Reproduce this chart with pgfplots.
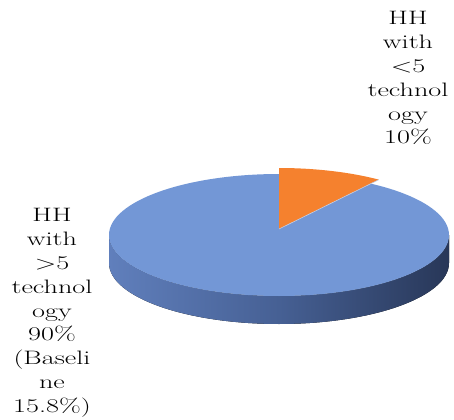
\documentclass[border=0pt]{standalone}
\usepackage{pgfplots}
\usepackage{pgfplotstable}
\pgfplotsset{compat=1.18}
\definecolor{pieblue}{RGB}{115,151,214}
\definecolor{pieorange}{RGB}{245,129,46}
\definecolor{sideL}{RGB}{96,127,188}
\definecolor{sideM}{RGB}{70,96,148}
\definecolor{sideR}{RGB}{40,55,88}
\pgfplotstableread{
label value
less 10
more 90
}\piedata
\begin{document}
\begin{tikzpicture}
\pgfplotstablegetelem{0}{value}\of\piedata
\let\va\pgfplotsretval
\pgfmathsetmacro\angA{90-360*\va/100}
\begin{axis}[
  scale only axis, width=454bp, height=418bp,
  xmin=0, xmax=454, ymin=0, ymax=418, y dir=reverse,
  hide axis, clip=false,
]
\path (axis cs:0,0) (axis cs:454,418);
% side
\fill[left color=sideL, right color=sideR, middle color=sideM]
  (axis cs:109,235) arc[start angle=180,end angle=360,x radius=170bp,y radius=61bp]
  -- ++(0,-28bp) arc[start angle=0,end angle=-180,x radius=170bp,y radius=61bp] -- cycle;
% top
\fill[pieblue] (axis cs:279,235) ellipse[x radius=170bp, y radius=61bp];
\fill[pieorange] (axis cs:279,229) -- ++(\angA:170bp and 61bp)
  arc[start angle=\angA,end angle=90,x radius=170bp,y radius=61bp] -- cycle;
\draw[white!55!pieblue, line width=0.6pt] (axis cs:279,229) -- ++(\angA:170bp and 61bp);
% labels
\node[anchor=north, inner sep=0pt] at (axis cs:408,7.5) {\fontsize{19.5}{24}\selectfont\scalebox{1.45}[1]{\begin{tabular}{@{}c@{}}HH\\with\\<5\\technol\\ogy\\10\%\end{tabular}}};
\node[anchor=north, inner sep=0pt] at (axis cs:52,204.5) {\fontsize{19.5}{24}\selectfont\scalebox{1.45}[1]{\begin{tabular}{@{}c@{}}HH\\with\\>5\\technol\\ogy\\90\%\\(Baseli\\ne\\15.8\%)\end{tabular}}};
\end{axis}
\end{tikzpicture}
\end{document}
